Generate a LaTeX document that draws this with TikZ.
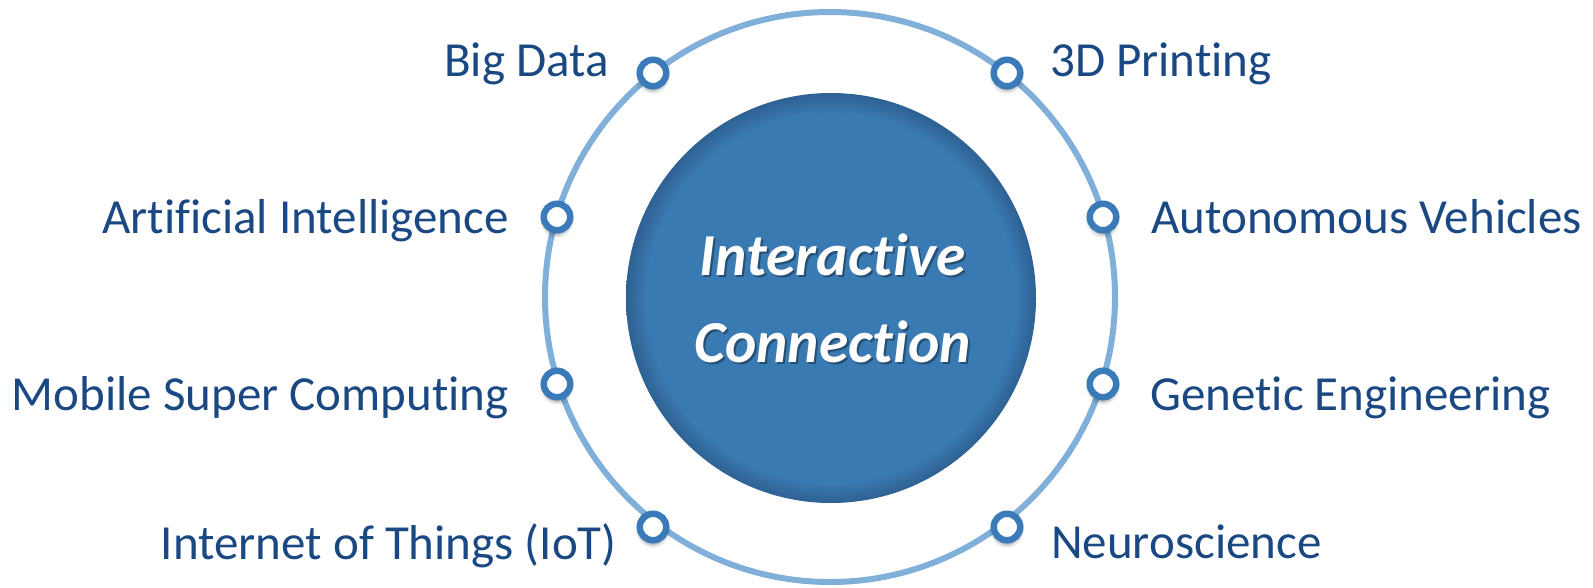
\documentclass[tikz,border=0pt]{standalone}
\usepackage{fontspec}
\setmainfont{Carlito}[Ligatures={NoCommon,NoRequired,NoContextual}]
\usetikzlibrary{shadows.blur}
\definecolor{txt}{HTML}{1A4882}
\definecolor{ringc}{HTML}{80B0DA}
\definecolor{dotc}{HTML}{3A7AB8}
\definecolor{icfill}{HTML}{3A7AB2}
\definecolor{icrim}{HTML}{2E6193}
\pgfdeclareradialshading{rimshade}{\pgfpoint{0bp}{0bp}}{color(0bp)=(icfill); color(22.5bp)=(icfill); color(25bp)=(icrim); color(50bp)=(icrim)}
\tikzset{
  lbl/.style={inner sep=0pt, text=txt, font=\fontsize{49}{58}\selectfont},
  dotnode/.style={circle, draw=dotc, line width=6.5pt, fill=white, minimum size=26.5pt, inner sep=0pt,
    blur shadow={shadow xshift=0pt, shadow yshift=-4pt, shadow blur radius=4pt, shadow opacity=45}},
  ringnode/.style={circle, draw=ringc, line width=6pt, minimum size=570pt, inner sep=0pt},
  corenode/.style={circle, shading=rimshade, minimum size=410pt, inner sep=0pt},
  ctxt/.style={inner sep=0pt, anchor=base, text=white, font=\fontsize{59.5}{70}\selectfont\bfseries\itshape},
  ctxtshadow/.style={ctxt, text=black, text opacity=0.35}
}
\begin{document}
\begin{tikzpicture}[x=1pt,y=-1pt]
\useasboundingbox (0,0) rectangle (1593,587);
\node[ringnode] (ring) at (830,297) {};
\node[corenode] (core) at (831,298) {};
\node[ctxtshadow] (s1) at (834.5,277.5) {Interactive};
\node[ctxtshadow] (s2) at (834.5,364.5) {Connection};
\node[ctxt] (t1) at (832.5,275) {Interactive};
\node[ctxt] (t2) at (832.5,362) {Connection};
% dots
\node[dotnode] (dbd) at (653,73) {};
\node[dotnode] (dai) at (557,217) {};
\node[dotnode] (dms) at (557,384) {};
\node[dotnode] (dio) at (653,527) {};
\node[dotnode] (d3d) at (1007,73) {};
\node[dotnode] (dav) at (1103,217) {};
\node[dotnode] (dge) at (1103,384) {};
\node[dotnode] (dne) at (1007,527) {};
% labels
\node[lbl, anchor=base east] (lbd) at (609,76.5) {Big Data};
\node[lbl, anchor=base east] (lai) at (509,233) {Artificial Intelligence};
\node[lbl, anchor=base east] (lms) at (509,410) {Mobile Super Computing};
\node[lbl, anchor=base east] (lio) at (617,559) {Internet of Things (IoT)};
\node[lbl, anchor=base west] (l3d) at (1050,76.5) {3D Printing};
\node[lbl, anchor=base west] (lav) at (1151,233) {Autonomous Vehicles};
\node[lbl, anchor=base west] (lge) at (1150,410) {Genetic Engineering};
\node[lbl, anchor=base west] (lne) at (1051,558) {Neuroscience};
\end{tikzpicture}
\end{document}
